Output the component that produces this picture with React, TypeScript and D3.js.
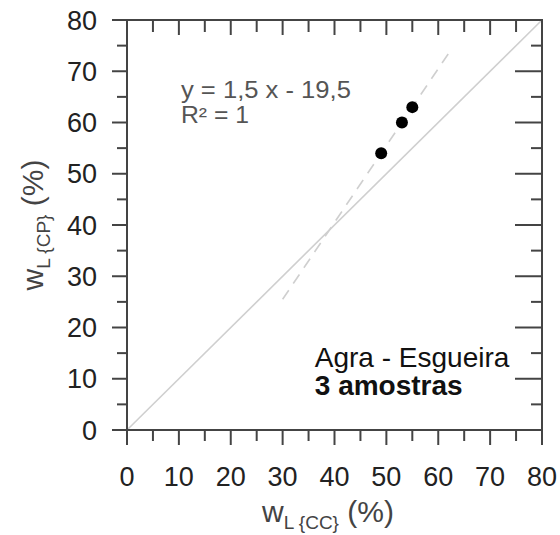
import React from "react";
import * as d3 from "d3";

const xDomain = [0, 80];
const yDomain = [0, 80];
const majorTicks = [0, 10, 20, 30, 40, 50, 60, 70, 80];
const minorTicks = [5, 15, 25, 35, 45, 55, 65, 75];
const pointsX = [49, 53, 55];
const pointsY = [54, 60, 63];
const fitSlope = 1.5;
const fitIntercept = -19.5;
const fitRange = [30, 62];
const identityRange = [0, 80];
const equationText = "y = 1,5 x - 19,5";
const r2Text = "R² = 1";
const siteText = "Agra - Esgueira";
const samplesText = "3 amostras";

const W = 560;
const H = 535;
const M = { left: 127, top: 20, right: 18, bottom: 105 };
const FONT = "'Liberation Sans', Arial, sans-serif";

export default function App() {
  const x = d3.scaleLinear().domain(xDomain).range([M.left, W - M.right]);
  const y = d3.scaleLinear().domain(yDomain).range([H - M.bottom, M.top]);
  const x0 = x.range()[0], x1 = x.range()[1];
  const y0 = y.range()[0], y1 = y.range()[1];
  const line = d3.line<number>().x((d) => x(d)).y((d) => y(d));
  const fitLine = d3
    .line<number>()
    .x((d) => x(d))
    .y((d) => y(fitSlope * d + fitIntercept));
  const axisColor = "#444";
  const tickColor = "#222";

  return (
    <svg width={W} height={H} style={{ position: "absolute", left: 0, top: 0, background: "#fff" }}>
      {/* identity line */}
      <path d={line(identityRange) || ""} stroke="#cfcfcf" strokeWidth={1.6} fill="none" />
      {/* fit line */}
      <path d={fitLine(fitRange) || ""} stroke="#cfcfcf" strokeWidth={1.6} strokeDasharray="11,8" fill="none" />
      {/* points */}
      {pointsX.map((px, i) => (
        <circle key={i} cx={x(px)} cy={y(pointsY[i])} r={6} fill="#000" />
      ))}
      {/* frame */}
      <rect x={x0} y={y1} width={x1 - x0} height={y0 - y1} fill="none" stroke={axisColor} strokeWidth={2} />
      {/* left ticks (outward) */}
      {majorTicks.map((t) => (
        <line key={"lm" + t} x1={x0 - 15} x2={x0} y1={y(t)} y2={y(t)} stroke={axisColor} strokeWidth={2} />
      ))}
      {minorTicks.map((t) => (
        <line key={"ln" + t} x1={x0 - 10} x2={x0} y1={y(t)} y2={y(t)} stroke={axisColor} strokeWidth={2} />
      ))}
      {/* right ticks (inward) */}
      {majorTicks.map((t) => (
        <line key={"rm" + t} x1={x1 - 27} x2={x1} y1={y(t)} y2={y(t)} stroke={axisColor} strokeWidth={2} />
      ))}
      {minorTicks.map((t) => (
        <line key={"rn" + t} x1={x1 - 11} x2={x1} y1={y(t)} y2={y(t)} stroke={axisColor} strokeWidth={2} />
      ))}
      {/* bottom ticks (outward) */}
      {majorTicks.map((t) => (
        <line key={"bm" + t} x1={x(t)} x2={x(t)} y1={y0} y2={y0 + 15} stroke={axisColor} strokeWidth={2} />
      ))}
      {minorTicks.map((t) => (
        <line key={"bn" + t} x1={x(t)} x2={x(t)} y1={y0} y2={y0 + 11} stroke={axisColor} strokeWidth={2} />
      ))}
      {/* top ticks (inward) */}
      {majorTicks.map((t) => (
        <line key={"tm" + t} x1={x(t)} x2={x(t)} y1={y1} y2={y1 + 15} stroke={axisColor} strokeWidth={2} />
      ))}
      {minorTicks.map((t) => (
        <line key={"tn" + t} x1={x(t)} x2={x(t)} y1={y1} y2={y1 + 12} stroke={axisColor} strokeWidth={2} />
      ))}
      {/* y tick labels */}
      {majorTicks.map((t) => (
        <text key={"yl" + t} x={x0 - 30} y={y(t)} dy="0.36em" textAnchor="end" fontFamily={FONT} fontSize={27} fill={tickColor}>
          {t}
        </text>
      ))}
      {/* x tick labels */}
      {majorTicks.map((t) => (
        <text key={"xl" + t} x={x(t)} y={y0 + 56} textAnchor="middle" fontFamily={FONT} fontSize={27} fill={tickColor}>
          {t}
        </text>
      ))}
      {/* x axis label */}
      <text x={328} y={522} textAnchor="middle" fontFamily={FONT} fontSize={30} fill="#444">
        <tspan>w</tspan>
        <tspan fontSize={19} dy={7}>L {"{CC}"}</tspan>
        <tspan dy={-7}> (%)</tspan>
      </text>
      {/* y axis label */}
      <text transform="translate(43,225) rotate(-90)" textAnchor="middle" fontFamily={FONT} fontSize={30} fill="#444">
        <tspan>w</tspan>
        <tspan fontSize={19} dy={7}>L {"{CP}"}</tspan>
        <tspan dy={-7}> (%)</tspan>
      </text>
      {/* equation */}
      <text x={x(10.4)} y={98} fontFamily={FONT} fontSize={23} fill="#555" textLength={170} lengthAdjust="spacingAndGlyphs">
        {equationText}
      </text>
      <text x={x(10.4)} y={123} fontFamily={FONT} fontSize={23} fill="#555" textLength={68} lengthAdjust="spacingAndGlyphs">
        {r2Text}
      </text>
      {/* site annotation */}
      <text x={x(36.2)} y={y(12.3)} fontFamily={FONT} fontSize={28} fill="#111">
        {siteText}
      </text>
      <text x={x(36.2)} y={y(6.8)} fontFamily={FONT} fontSize={28} fontWeight="bold" fill="#111">
        {samplesText}
      </text>
    </svg>
  );
}
